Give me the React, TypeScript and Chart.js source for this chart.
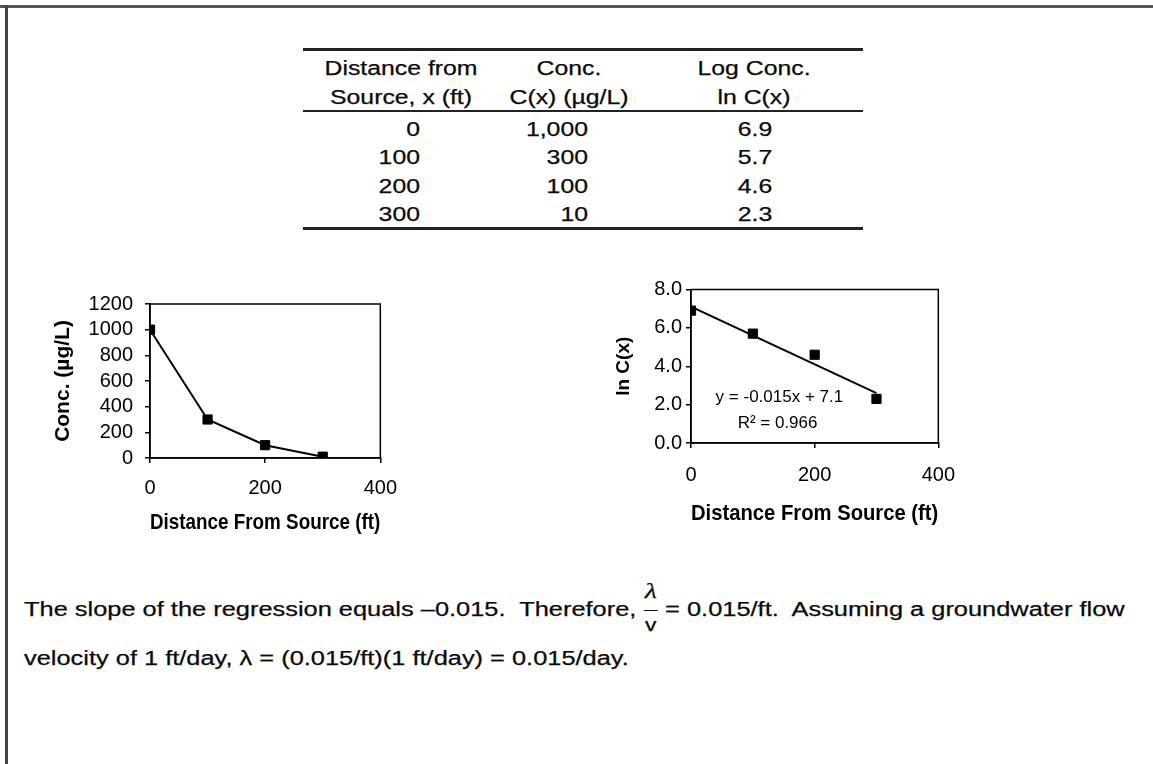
import React, { useEffect, useRef } from "react";
import { Chart, registerables } from "chart.js";

Chart.register(...registerables);

// ---------------- data ----------------
const distanceFt = [0, 100, 200, 300];
const concentration = [1000, 300, 100, 10];
const logConcentration = [6.9, 5.7, 4.6, 2.3];
const trendX = [0, 300];
const trendY = [7.1, 2.6]; // Excel linear trendline y = -0.015x + 7.1
const trendLabels = ["y = -0.015x + 7.1", "R² = 0.966"];
const headerLine1 = ["Distance from", "Conc.", "Log Conc."];
const headerLine2 = ["Source, x (ft)", "C(x) (µg/L)", "ln C(x)"];
const concTicks = [0, 200, 400, 600, 800, 1000, 1200];
const logTicks = [0, 2, 4, 6, 8];
const distanceTicks = [0, 200, 400];

const FONT = "'Liberation Sans', Arial, Helvetica, sans-serif";
const INK = "#0a0a0a";

type Align = "left" | "center" | "right";

function Txt(props: {
  x: number;
  y: number;
  align: Align;
  k: number;
  size: number;
  children: React.ReactNode;
}) {
  const { x, y, align, k, size, children } = props;
  let transform = `scaleX(${k})`;
  let origin = "left center";
  if (align === "center") {
    transform = `translateX(-50%) scaleX(${k})`;
    origin = "center center";
  } else if (align === "right") {
    transform = `translateX(-100%) scaleX(${k})`;
    origin = "right center";
  }
  return (
    <div
      style={{
        position: "absolute",
        left: x,
        top: y - 0.8465 * size,
        fontSize: size,
        lineHeight: `${size}px`,
        whiteSpace: "pre",
        transform,
        transformOrigin: origin,
        WebkitTextStroke: "0.25px #0a0a0a",
      }}
    >
      {children}
    </div>
  );
}

const framePlugin = {
  id: "plotFrame",
  afterDraw(chart: any) {
    const { ctx, chartArea } = chart;
    ctx.save();
    ctx.strokeStyle = "#000";
    ctx.lineWidth = 1.5;
    ctx.strokeRect(
      chartArea.left,
      chartArea.top,
      chartArea.right - chartArea.left,
      chartArea.bottom - chartArea.top
    );
    ctx.restore();
  },
};

const equationPlugin = {
  id: "trendEquation",
  afterDatasetsDraw(chart: any) {
    const { ctx, scales } = chart;
    const xs = scales.x;
    const ys = scales.y;
    ctx.save();
    ctx.font = `17px ${FONT}`;
    ctx.fillStyle = "#000";
    ctx.textAlign = "center";
    ctx.textBaseline = "middle";
    ctx.fillText(trendLabels[0], xs.getPixelForValue(143), ys.getPixelForValue(2.4));
    ctx.fillText(trendLabels[1], xs.getPixelForValue(140), ys.getPixelForValue(1.05));
    ctx.restore();
  },
};

function axisCommon(extra: any) {
  return {
    type: "linear",
    grid: {
      display: true,
      drawOnChartArea: false,
      drawTicks: true,
      tickLength: 5,
      color: "#000",
      lineWidth: 1.5,
    },
    border: { display: true, color: "#000", width: 1.5 },
    ...extra,
  };
}

function tickFont() {
  return { family: FONT, size: 20 };
}

function titleFont(size: number) {
  return { family: FONT, size, weight: "bold" as const };
}

function useChart(build: () => any) {
  const ref = useRef<HTMLCanvasElement | null>(null);
  useEffect(() => {
    if (!ref.current) return;
    const chart = new Chart(ref.current, build());
    return () => chart.destroy();
  }, []);
  return ref;
}

function ConcChart() {
  const ref = useChart(() => ({
    type: "scatter",
    data: {
      datasets: [
        {
          data: distanceFt.map((x, i) => ({ x, y: concentration[i] })),
          showLine: true,
          borderColor: "#000",
          backgroundColor: "#000",
          borderWidth: 2,
          pointStyle: "rect",
          pointRadius: 6.5,
          pointHoverRadius: 6.5,
          pointBorderWidth: 1,
          pointBorderColor: "#000",
          pointBackgroundColor: "#000",
        },
      ],
    },
    options: {
      animation: false,
      responsive: false,
      devicePixelRatio: 1,
      events: [],
      layout: { padding: { left: 21, top: 22, right: 29, bottom: 14 } },
      plugins: { legend: { display: false }, tooltip: { enabled: false } },
      scales: {
        x: axisCommon({
          min: 0,
          max: 400,
          afterBuildTicks: (s: any) => {
            s.ticks = distanceTicks.map((v) => ({ value: v }));
          },
          ticks: {
            color: "#000",
            font: tickFont(),
            padding: 13,
            maxRotation: 0,
            autoSkip: false,
            callback: (v: any) => String(v),
          },
          title: {
            display: true,
            text: "Distance From Source (ft)",
            color: "#000",
            font: titleFont(21.5),
            padding: 0,
          },
          afterFit: (s: any) => {
            s.height = 78;
          },
        }),
        y: axisCommon({
          min: 0,
          max: 1200,
          afterBuildTicks: (s: any) => {
            s.ticks = concTicks.map((v) => ({ value: v }));
          },
          ticks: {
            color: "#000",
            font: tickFont(),
            padding: 12,
            autoSkip: false,
            callback: (v: any) => String(v),
          },
          title: {
            display: true,
            text: "Conc. (µg/L)",
            color: "#000",
            font: titleFont(21),
            padding: 0,
          },
          afterFit: (s: any) => {
            s.width = 99;
          },
        }),
      },
    },
    plugins: [framePlugin],
  }));
  return (
    <canvas
      ref={ref}
      width={380}
      height={270}
      style={{ position: "absolute", left: 30, top: 280 }}
    />
  );
}

function LogChart() {
  const ref = useChart(() => ({
    type: "scatter",
    data: {
      datasets: [
        {
          data: distanceFt.map((x, i) => ({ x, y: logConcentration[i] })),
          showLine: false,
          backgroundColor: "#000",
          borderColor: "#000",
          pointStyle: "rect",
          pointRadius: 6.5,
          pointHoverRadius: 6.5,
          pointBorderWidth: 1,
        },
        {
          data: trendX.map((x, i) => ({ x, y: trendY[i] })),
          showLine: true,
          borderColor: "#000",
          borderWidth: 2,
          pointRadius: 0,
          pointHoverRadius: 0,
        },
      ],
    },
    options: {
      animation: false,
      responsive: false,
      devicePixelRatio: 1,
      events: [],
      layout: { padding: { left: 22, top: 21.5, right: 29, bottom: 11 } },
      plugins: { legend: { display: false }, tooltip: { enabled: false } },
      scales: {
        x: axisCommon({
          min: 0,
          max: 400,
          afterBuildTicks: (s: any) => {
            s.ticks = distanceTicks.map((v) => ({ value: v }));
          },
          ticks: {
            color: "#000",
            font: tickFont(),
            padding: 15,
            maxRotation: 0,
            autoSkip: false,
            callback: (v: any) => String(v),
          },
          title: {
            display: true,
            text: "Distance From Source (ft)",
            color: "#000",
            font: titleFont(21.5),
            padding: 0,
          },
          afterFit: (s: any) => {
            s.height = 84;
          },
        }),
        y: axisCommon({
          min: 0,
          max: 8,
          afterBuildTicks: (s: any) => {
            s.ticks = logTicks.map((v) => ({ value: v }));
          },
          ticks: {
            color: "#000",
            font: tickFont(),
            padding: 4,
            autoSkip: false,
            callback: (v: any) => Number(v).toFixed(1),
          },
          title: {
            display: true,
            text: "ln C(x)",
            color: "#000",
            font: titleFont(19),
            padding: 0,
          },
          afterFit: (s: any) => {
            s.width = 79;
          },
        }),
      },
    },
    plugins: [framePlugin, equationPlugin],
  }));
  return (
    <canvas
      ref={ref}
      width={380}
      height={270}
      style={{ position: "absolute", left: 590, top: 268 }}
    />
  );
}

function DataTable() {
  const K = 1.24;
  const S = 20;
  const headerCenters = [401, 569, 754];
  const rowBaselines = [135.5, 164, 192.5, 221];
  const rule = (top: number, h: number) => (
    <div
      style={{
        position: "absolute",
        left: 303,
        width: 560,
        top,
        height: h,
        background: "#222",
      }}
    />
  );
  return (
    <>
      {rule(48, 3)}
      {rule(109.5, 2.5)}
      {rule(227, 3)}
      {headerLine1.map((t, i) => (
        <Txt key={"h1" + i} x={headerCenters[i]} y={75} align="center" k={K} size={S}>
          {t}
        </Txt>
      ))}
      {headerLine2.map((t, i) => (
        <Txt key={"h2" + i} x={headerCenters[i]} y={104} align="center" k={K} size={S}>
          {t}
        </Txt>
      ))}
      {distanceFt.map((d, i) => (
        <React.Fragment key={"r" + i}>
          <Txt x={420} y={rowBaselines[i]} align="right" k={K} size={S}>
            {String(d)}
          </Txt>
          <Txt x={588} y={rowBaselines[i]} align="right" k={K} size={S}>
            {concentration[i].toLocaleString("en-US")}
          </Txt>
          <Txt x={754.5} y={rowBaselines[i]} align="center" k={K} size={S}>
            {logConcentration[i].toFixed(1)}
          </Txt>
        </React.Fragment>
      ))}
    </>
  );
}

function Paragraph() {
  return (
    <div
      style={{
        position: "absolute",
        left: 24,
        top: 585,
        fontSize: 20,
        lineHeight: "49px",
        whiteSpace: "pre",
        transform: "scaleX(1.27)",
        transformOrigin: "0 0",
        WebkitTextStroke: "0.25px #0a0a0a",
      }}
    >
      {"The slope of the regression equals –0.015.  Therefore, "}
      <span
        style={{
          display: "inline-block",
          verticalAlign: "middle",
          textAlign: "center",
          position: "relative",
          top: -3,
          marginTop: -16,
          marginBottom: -16,
        }}
      >
        <span
          style={{
            display: "block",
            fontFamily: "'Liberation Serif', 'DejaVu Serif', serif",
            fontStyle: "italic",
            fontSize: 22,
            lineHeight: "22px",
            padding: "0 1px 8px 1px",
          }}
        >
          λ
        </span>
        <span
          style={{
            display: "block",
            borderTop: `1.5px solid ${INK}`,
            fontSize: 18,
            lineHeight: "20px",
            paddingTop: 4,
          }}
        >
          v
        </span>
      </span>
      {" = 0.015/ft.  Assuming a groundwater flow"}
      <br />
      {"velocity of 1 ft/day, λ = (0.015/ft)(1 ft/day) = 0.015/day."}
    </div>
  );
}

export default function App() {
  return (
    <div
      style={{
        position: "absolute",
        left: 0,
        top: 0,
        width: 1153,
        height: 764,
        background: "#fff",
        overflow: "hidden",
        fontFamily: FONT,
        color: INK,
      }}
    >
      <div
        style={{ position: "absolute", left: 0, top: 5, width: 1153, height: 3, background: "#555" }}
      />
      <div
        style={{ position: "absolute", left: 5, top: 5, width: 3, height: 759, background: "#444" }}
      />
      <DataTable />
      <ConcChart />
      <LogChart />
      <Paragraph />
    </div>
  );
}
